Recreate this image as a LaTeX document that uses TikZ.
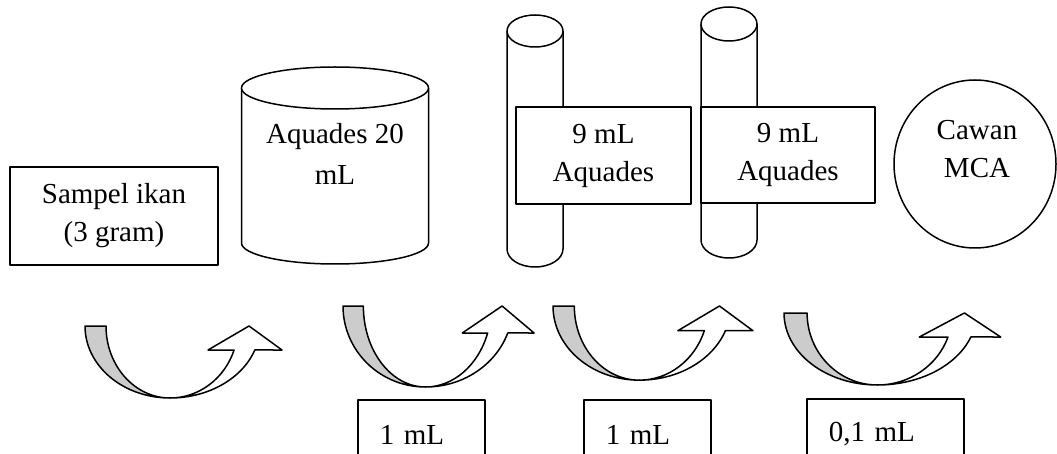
\documentclass[tikz,border=0pt]{standalone}
\usepackage{fontspec}
\setmainfont{Liberation Serif}
\usetikzlibrary{shapes.geometric}

% U-shaped transfer arrow: grey back strip on the left, white shaft with head on the right
\newcommand\bendarrow[4]{%
  \begin{scope}[shift={(#1,#2)}, xscale=#3, yscale=#4]
    \draw[fill=gray!40] (0,0)
      arc[start angle=180, end angle=90, x radius=85, y radius=72]
      arc[start angle=90, end angle=180, x radius=64, y radius=72] -- cycle;
    \draw[fill=white] (85,72)
      arc[start angle=90, end angle=19.47, x radius=90, y radius=72]
      -- (197,24) -- (164,0) -- (123,24) -- (149.1,24)
      arc[start angle=19.47, end angle=90, x radius=68, y radius=72] -- cycle;
  \end{scope}}

\begin{document}
\begin{tikzpicture}[x=1pt, y=-1pt, line width=1.5pt, line join=round,
  txt/.style={font=\fontsize{29}{38}\selectfont, align=center, inner sep=0pt},
  box/.style={draw, fill=white, inner sep=0pt, align=center,
    font=\fontsize{29}{38}\selectfont},
  volbox/.style={draw, fill=white, inner xsep=22pt, inner ysep=0pt,
    minimum height=70, align=left, anchor=north west,
    font=\fontsize{29}{38}\selectfont},
  vessel/.style={draw, fill=white}]

\useasboundingbox (0,0) rectangle (1057,454);

% fish sample
\node[box, minimum width=208, minimum height=98] (sampel) at (114,216)
  {Sampel ikan\\(3 gram)};

% beaker with 20 mL distilled water
\draw[vessel] (241.5,88) -- (241.5,243)
  arc[start angle=180, end angle=0, x radius=93.5, y radius=21] -- (428.5,88);
\draw[vessel] (335,88) ellipse[x radius=93.5, y radius=21];
\node[txt, font=\fontsize{29}{41}\selectfont] (aquades) at (335,154) {Aquades 20\\mL};

% first dilution tube
\draw[vessel] (507,31) -- (507,249)
  arc[start angle=180, end angle=0, x radius=28, y radius=18] -- (563,31);
\draw[vessel] (535,31) ellipse[x radius=28, y radius=16];
\node[box, minimum width=175, minimum height=97] (tubeA) at (603.5,155.5)
  {9 mL\\Aquades};

% second dilution tube
\draw[vessel] (701,24) -- (701,240)
  arc[start angle=180, end angle=0, x radius=28, y radius=18] -- (757,24);
\draw[vessel] (729,24) ellipse[x radius=28, y radius=17];
\node[box, minimum width=174, minimum height=96] (tubeB) at (788,155)
  {9 mL\\Aquades};

% plate
\node[draw, ellipse, inner sep=0pt, minimum width=162, minimum height=168]
  (mca) at (975,164) {};
\node[txt] (mcatxt) at (977,149) {Cawan\\MCA};

% transfer arrows
\bendarrow{85}{326}{1}{1}
\bendarrow{343}{306}{0.97}{1.125}
\bendarrow{553}{306}{1.015}{1.03}
\bendarrow{784}{313}{1.1}{1}

% transferred volumes
\node[volbox, text width=83] (vol1) at (357,399) {1 mL};
\node[volbox, text width=83] (vol2) at (583,399) {1 mL};
\node[volbox, text width=113] (vol3) at (806,398) {0,1 mL};

\end{tikzpicture}
\end{document}
